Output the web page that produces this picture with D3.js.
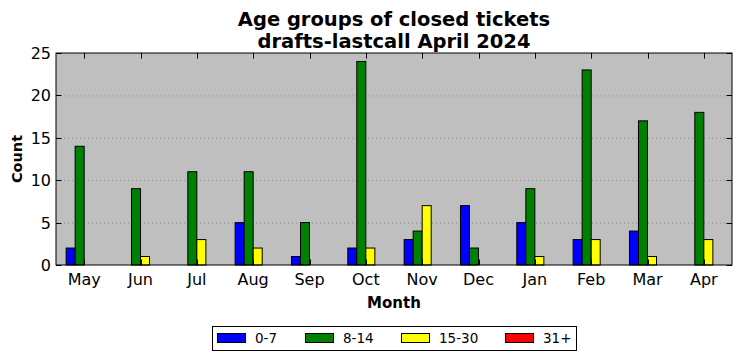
<!DOCTYPE html>
<html><head><meta charset="utf-8">
<script src="https://cdn.jsdelivr.net/npm/d3@7"></script>
<style>body{margin:0;background:#fff;} svg{display:block;font-family:"DejaVu Sans",sans-serif;}</style>
</head><body>
<svg id="c" width="742" height="361"></svg>
<script>
const months = ["May","Jun","Jul","Aug","Sep","Oct","Nov","Dec","Jan","Feb","Mar","Apr"];
const seriesNames = ["0-7","8-14","15-30","31+"];
const seriesColors = ["#0000ff","#008000","#ffff00","#ff0000"];
const s0_7   = [2,0,0,5,1,2,3,7,5,3,4,0];
const s8_14  = [14,9,11,11,5,24,4,2,9,23,17,18];
const s15_30 = [0,1,3,2,0,2,7,0,1,3,1,3];
const s31    = [0,0,0,0,0,0,0,0,0,0,0,0];
const yTicks = [0,5,10,15,20,25];
const series = [s0_7, s8_14, s15_30, s31];

const svg = d3.select("#c");
const L=56, R=732, T=53, B=265;
const x = d3.scaleLinear().domain([-0.5, months.length-0.5]).range([L,R]);
const y = d3.scaleLinear().domain([0,25]).range([B,T]);
const bw = 0.16;

svg.append("rect").attr("x",L).attr("y",T).attr("width",R-L).attr("height",B-T).attr("fill","#bfbfbf");

// grid
svg.append("g").selectAll("line").data(yTicks.filter(d=>d>0&&d<25)).join("line")
  .attr("x1",L).attr("x2",R).attr("y1",d=>y(d)+0.5).attr("y2",d=>y(d)+0.5)
  .attr("stroke","#808080").attr("stroke-width",0.8).attr("stroke-dasharray","1,3");

// bars
series.forEach((vals,si)=>{
  svg.append("g").selectAll("rect").data(vals).join("rect")
    .attr("x",(d,i)=>x(i-2*bw+si*bw))
    .attr("width",x(bw)-x(0))
    .attr("y",d=>y(d))
    .attr("height",d=>y(0)-y(d))
    .attr("fill",seriesColors[si]).attr("stroke","#000").attr("stroke-width",1);
});

// axes with inward ticks
const ax = svg.append("g");
ax.append("rect").attr("x",L).attr("y",T).attr("width",R-L).attr("height",B-T).attr("fill","none").attr("stroke","#000").attr("stroke-width",1);
months.forEach((m,i)=>{
  const px = Math.round(x(i))+0.5;
  ax.append("line").attr("x1",px).attr("x2",px).attr("y1",B).attr("y2",B-5.5).attr("stroke","#000");
  ax.append("line").attr("x1",px).attr("x2",px).attr("y1",T).attr("y2",T+5.5).attr("stroke","#000");
  ax.append("text").attr("x",x(i)).attr("y",285).attr("text-anchor","middle").attr("font-size",16).text(m);
});
yTicks.forEach(v=>{
  const py = Math.round(y(v))+0.5;
  ax.append("line").attr("x1",L).attr("x2",L+5.5).attr("y1",py).attr("y2",py).attr("stroke","#000");
  ax.append("line").attr("x1",R).attr("x2",R-5.5).attr("y1",py).attr("y2",py).attr("stroke","#000");
  ax.append("text").attr("x",L-5).attr("y",y(v)+6).attr("text-anchor","end").attr("font-size",16).text(v);
});

// titles
svg.append("text").attr("x",(L+R)/2).attr("y",26).attr("text-anchor","middle").attr("font-size",19.5).attr("font-weight","bold").text("Age groups of closed tickets");
svg.append("text").attr("x",(L+R)/2).attr("y",48).attr("text-anchor","middle").attr("font-size",19.5).attr("font-weight","bold").text("drafts-lastcall April 2024");
svg.append("text").attr("x",(L+R)/2).attr("y",308).attr("text-anchor","middle").attr("font-size",15).attr("font-weight","bold").text("Month");
svg.append("text").attr("transform","translate(22,"+((T+B)/2)+") rotate(-90)").attr("text-anchor","middle").attr("font-size",14.5).attr("font-weight","bold").text("Count");

// legend
const lg = svg.append("g");
lg.append("rect").attr("x",212.5).attr("y",326.5).attr("width",364).attr("height",24).attr("fill","#fff").attr("stroke","#000");
const lx = [217,305,401,505];
seriesNames.forEach((n,i)=>{
  lg.append("rect").attr("x",lx[i]+0.5).attr("y",333.5).attr("width",28).attr("height",9).attr("fill",seriesColors[i]).attr("stroke","#000");
  lg.append("text").attr("x",lx[i]+38).attr("y",343).attr("font-size",13.5).text(n);
});
</script>
</body></html>
